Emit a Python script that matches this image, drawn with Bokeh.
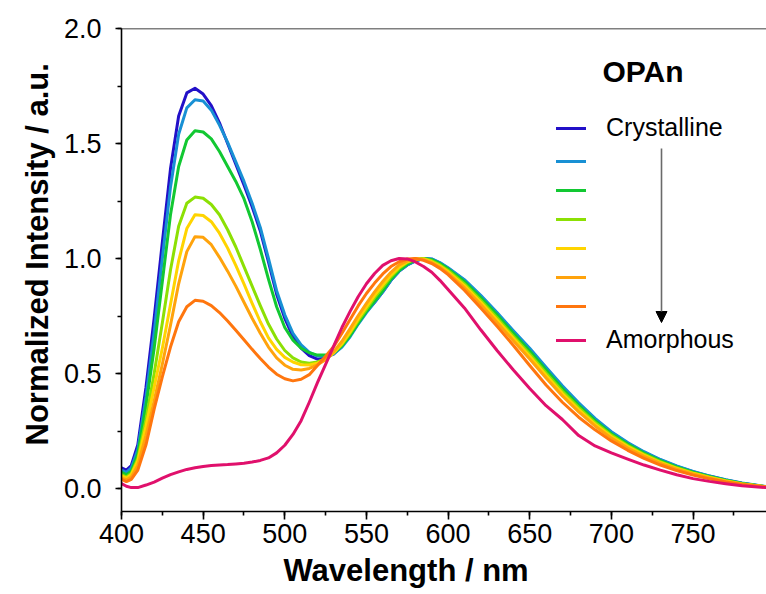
from bokeh.plotting import figure
from bokeh.models import (Range1d, SingleIntervalTicker, Legend, LegendItem, Label,
                          Arrow, NormalHead, Title, Span, NumeralTickFormatter)
from bokeh.core.properties import value
from bokeh.embed import file_html
from bokeh.resources import INLINE

wavelength = [400, 403, 406, 410, 415, 420, 425, 430, 435, 440, 445, 450, 455, 460, 465,
              470, 475, 480, 485, 490, 495, 500, 505, 510, 515, 520, 525, 530, 535, 540,
              545, 550, 555, 560, 565, 570, 575, 580, 585, 590, 595, 600, 610, 620, 630,
              640, 650, 660, 670, 680, 690, 700, 710, 720, 730, 740, 750, 760, 770, 780, 795]

s1 = [0.09, 0.08, 0.10, 0.19, 0.44, 0.74, 1.07, 1.39, 1.62, 1.72, 1.74, 1.715, 1.665, 1.59, 1.50,
      1.41, 1.32, 1.225, 1.12, 0.985, 0.845, 0.74, 0.66, 0.61, 0.578, 0.562, 0.568, 0.585, 0.62, 0.665,
      0.72, 0.77, 0.81, 0.855, 0.905, 0.945, 0.972, 0.99, 1.0, 0.997, 0.98, 0.958, 0.905, 0.835, 0.76,
      0.68, 0.605, 0.52, 0.44, 0.368, 0.30, 0.243, 0.197, 0.157, 0.124, 0.096, 0.073, 0.054, 0.037, 0.023, 0.007]
s2 = [0.08, 0.07, 0.09, 0.17, 0.40, 0.68, 1.0, 1.31, 1.54, 1.655, 1.69, 1.685, 1.645, 1.58, 1.505,
      1.42, 1.335, 1.24, 1.135, 1.0, 0.86, 0.755, 0.675, 0.625, 0.592, 0.576, 0.575, 0.585, 0.615, 0.66,
      0.715, 0.765, 0.81, 0.855, 0.905, 0.945, 0.972, 0.99, 1.0, 0.998, 0.982, 0.96, 0.908, 0.84, 0.765,
      0.686, 0.61, 0.527, 0.447, 0.373, 0.305, 0.247, 0.20, 0.16, 0.126, 0.098, 0.074, 0.055, 0.038, 0.024, 0.008]
s3 = [0.07, 0.06, 0.075, 0.15, 0.36, 0.61, 0.90, 1.19, 1.40, 1.515, 1.555, 1.55, 1.52, 1.465, 1.40,
      1.335, 1.26, 1.16, 1.04, 0.91, 0.79, 0.70, 0.645, 0.61, 0.59, 0.58, 0.58, 0.59, 0.62, 0.665,
      0.72, 0.77, 0.815, 0.86, 0.91, 0.948, 0.975, 0.993, 1.0, 0.995, 0.978, 0.955, 0.90, 0.83, 0.755,
      0.675, 0.598, 0.515, 0.435, 0.362, 0.295, 0.238, 0.193, 0.154, 0.121, 0.094, 0.071, 0.052, 0.036, 0.022, 0.007]
s4 = [0.06, 0.05, 0.065, 0.13, 0.30, 0.50, 0.72, 0.95, 1.14, 1.24, 1.267, 1.262, 1.235, 1.19, 1.125,
      1.05, 0.965, 0.88, 0.795, 0.715, 0.65, 0.60, 0.568, 0.55, 0.545, 0.55, 0.565, 0.59, 0.625, 0.675,
      0.73, 0.78, 0.83, 0.875, 0.92, 0.957, 0.982, 0.997, 1.0, 0.99, 0.972, 0.948, 0.89, 0.818, 0.742,
      0.662, 0.585, 0.502, 0.423, 0.352, 0.287, 0.232, 0.187, 0.149, 0.117, 0.09, 0.068, 0.05, 0.034, 0.021, 0.007]
s5 = [0.055, 0.045, 0.06, 0.12, 0.27, 0.44, 0.61, 0.80, 0.99, 1.13, 1.19, 1.187, 1.16, 1.11, 1.045,
      0.97, 0.89, 0.805, 0.725, 0.655, 0.605, 0.57, 0.55, 0.538, 0.537, 0.545, 0.56, 0.59, 0.63, 0.68,
      0.738, 0.79, 0.84, 0.885, 0.928, 0.962, 0.986, 0.998, 0.998, 0.986, 0.967, 0.942, 0.882, 0.81, 0.733,
      0.653, 0.575, 0.492, 0.413, 0.343, 0.28, 0.226, 0.182, 0.145, 0.113, 0.087, 0.066, 0.048, 0.033, 0.02, 0.007]
s6 = [0.045, 0.038, 0.05, 0.10, 0.23, 0.38, 0.54, 0.71, 0.89, 1.03, 1.095, 1.092, 1.06, 1.005, 0.945,
      0.88, 0.81, 0.74, 0.675, 0.615, 0.568, 0.536, 0.518, 0.515, 0.522, 0.538, 0.56, 0.595, 0.64, 0.695,
      0.752, 0.805, 0.855, 0.90, 0.94, 0.972, 0.99, 1.0, 0.995, 0.982, 0.962, 0.935, 0.873, 0.80, 0.722,
      0.642, 0.563, 0.48, 0.402, 0.333, 0.272, 0.219, 0.176, 0.14, 0.109, 0.084, 0.063, 0.046, 0.031, 0.019, 0.006]
s7 = [0.04, 0.03, 0.04, 0.08, 0.19, 0.345, 0.485, 0.615, 0.725, 0.79, 0.818, 0.814, 0.795, 0.765, 0.728,
      0.688, 0.647, 0.605, 0.565, 0.528, 0.497, 0.477, 0.468, 0.475, 0.495, 0.535, 0.575, 0.618, 0.675, 0.735,
      0.795, 0.848, 0.893, 0.933, 0.965, 0.986, 0.998, 1.0, 0.992, 0.978, 0.957, 0.93, 0.862, 0.785, 0.705,
      0.622, 0.535, 0.45, 0.375, 0.31, 0.255, 0.207, 0.166, 0.131, 0.102, 0.078, 0.058, 0.042, 0.028, 0.017, 0.006]
s8 = [0.022, 0.01, 0.004, 0.004, 0.015, 0.028, 0.045, 0.06, 0.072, 0.083, 0.09, 0.096, 0.10, 0.102, 0.104,
      0.107, 0.11, 0.115, 0.122, 0.133, 0.155, 0.188, 0.235, 0.295, 0.375, 0.46, 0.54, 0.62, 0.70, 0.77,
      0.835, 0.89, 0.935, 0.97, 0.99, 1.0, 0.998, 0.985, 0.965, 0.94, 0.905, 0.865, 0.785, 0.69, 0.60,
      0.515, 0.435, 0.36, 0.30, 0.23, 0.185, 0.155, 0.128, 0.102, 0.08, 0.06, 0.043, 0.031, 0.021, 0.012, 0.004]

series = [s1, s2, s3, s4, s5, s6, s7, s8]
colors = ["#2210C8", "#1890D4", "#12C832", "#8CE004", "#FFD400", "#FFA30C", "#FF760E", "#E0106C"]
labels = ["Crystalline", " ", " ", " ", " ", " ", " ", "Amorphous"]
legend_title = "OPAn"
x_title = "Wavelength / nm"
y_title = "Normalized Intensity / a.u."

FONT = "Liberation Sans"

p = figure(width=766, height=594, output_backend="svg", toolbar_location=None,
           x_range=Range1d(400, 795), y_range=Range1d(-0.1, 2.0),
           min_border_left=121, min_border_right=0, min_border_top=28, min_border_bottom=83)
p.outline_line_color = None
p.grid.visible = False
p.background_fill_color = "white"
p.border_fill_color = "white"

for ax in (p.xaxis[0], p.yaxis[0]):
    ax.axis_line_width = 1.6
    ax.axis_line_color = "black"
    ax.major_tick_line_width = 1.6
    ax.minor_tick_line_width = 1.6
    ax.major_tick_line_color = "black"
    ax.minor_tick_line_color = "black"
    ax.major_tick_in = 0
    ax.minor_tick_in = 0
    ax.major_label_text_font = FONT
    ax.major_label_text_color = "black"
    ax.major_label_text_font_size = "27px"

p.xaxis[0].ticker = SingleIntervalTicker(interval=50, num_minor_ticks=2)
p.xaxis[0].major_tick_out = 8
p.xaxis[0].minor_tick_out = 4
p.xaxis[0].major_label_standoff = 4
p.yaxis[0].ticker = SingleIntervalTicker(interval=0.5, num_minor_ticks=2)
p.yaxis[0].formatter = NumeralTickFormatter(format="0.0")
p.yaxis[0].major_tick_out = 6
p.yaxis[0].minor_tick_out = 4
p.yaxis[0].major_label_standoff = 14

p.add_layout(Span(location=2.0, dimension="width", line_color="black", line_width=1.6))

p.add_layout(Title(text=y_title, align="left", offset=66, text_font=FONT,
                   text_font_size="31px", text_font_style="bold", text_color="black",
                   standoff=12), "left")
p.add_layout(Title(text=x_title, align="left", offset=162, text_font=FONT,
                   text_font_size="31px", text_font_style="bold", text_color="black",
                   standoff=10), "below")

items = []
for ys, c, lab in zip(series, colors, labels):
    r = p.line(wavelength, ys, line_color=c, line_width=3, line_join="round", line_cap="round")
    items.append(LegendItem(label=value(lab), renderers=[r]))

legend = Legend(items=items, location=(435, 157), padding=0, margin=0, spacing=9,
                glyph_width=30, glyph_height=20, label_height=20, label_standoff=20,
                label_text_font=FONT, label_text_font_size="25px", label_text_color="black",
                border_line_color=None, background_fill_alpha=0)
p.add_layout(legend)

p.add_layout(Label(x=481, y=440, x_units="screen", y_units="screen", text=legend_title,
                   text_font=FONT, text_font_size="30px", text_font_style="bold",
                   text_color="black", text_baseline="middle"))

p.add_layout(Arrow(x_start=540, y_start=363, x_end=540, y_end=189,
                   start_units="screen", end_units="screen",
                   line_color="#6a6a6a", line_width=1.6,
                   end=NormalHead(size=11, fill_color="black", line_color="black")))

open("out.html", "w").write(file_html(p, INLINE))
